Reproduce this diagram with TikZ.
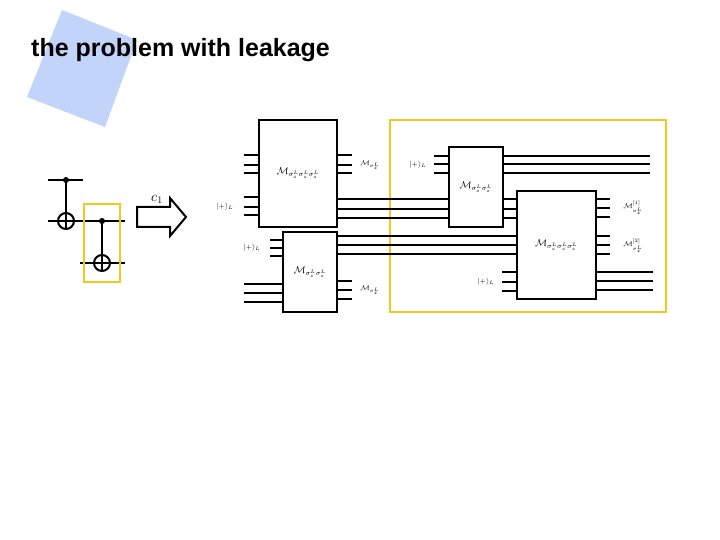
\documentclass[tikz,border=0pt]{standalone}
\usepackage{fontspec}
\setsansfont{Liberation Sans}
\definecolor{ylw}{RGB}{240,200,30}
\definecolor{lblue}{RGB}{195,212,250}
\begin{document}
\begin{tikzpicture}[x=1pt,y=-1pt,
  box/.style={draw,line width=2pt,fill=white,inner sep=0pt,font=\normalsize},
  w/.style={line width=2pt},
  lbl/.style={font=\scriptsize,inner sep=0pt},
  yb/.style={draw=ylw,line width=2.5pt}]
\useasboundingbox (0,0) rectangle (720,540);
\fill[lblue] (62,10) -- (137,40) -- (105,127) -- (27,97) -- cycle;
\node[anchor=base west,font=\sffamily\bfseries\fontsize{25}{28}\selectfont,inner sep=0pt] (title) at (31,57) {the problem with leakage};
% small circuit
\draw[w] (48,180) -- (83,180);
\draw[w] (48,221) -- (125,221);
\draw[w] (80,263) -- (125,263);
\fill (66,180) circle (3);
\draw[w] (66,180) -- (66,229);
\draw[w] (66,221) circle (8);
\fill (102,221) circle (3);
\draw[w] (102,221) -- (102,271);
\draw[w] (102,263) circle (8);
\draw[yb] (84,204) rectangle (120,282);
\draw[w] (137,207) -- (170,207) -- (170,198) -- (186,217) -- (170,236) -- (170,227) -- (137,227) -- cycle;
\node[font=\Large] (c1) at (157,199) {$c_1$};
% yellow big
\draw[yb] (390,120) rectangle (666,312);
% wires
\foreach \y in {155,165,173,197,207,215} \draw[w] (244,\y) -- (259,\y);
\foreach \y in {155,165,173} \draw[w] (337,\y) -- (352,\y);
\foreach \y in {199,209,218} \draw[w] (337,\y) -- (517,\y);
\foreach \y in {240,248,256} \draw[w] (270,\y) -- (283,\y);
\foreach \y in {284,293,302} \draw[w] (244,\y) -- (283,\y);
\foreach \y in {236,245,254} \draw[w] (337,\y) -- (517,\y);
\foreach \y in {281,290,299} \draw[w] (337,\y) -- (352,\y);
\foreach \y in {156,164,173} \draw[w] (434,\y) -- (650,\y);
\foreach \y in {272,282,291} \draw[w] (502,\y) -- (517,\y);
\foreach \y in {199,208,217,236,245,254} \draw[w] (596,\y) -- (610,\y);
\foreach \y in {272,281,290} \draw[w] (596,\y) -- (653,\y);
% boxes
\node[box,minimum width=78pt,minimum height=107pt] (A) at (298,173.5) {$\mathcal{M}_{\sigma_z^L\sigma_z^L\sigma_z^L}$};
\node[box,minimum width=54pt,minimum height=80pt] (B) at (310,272) {$\mathcal{M}_{\sigma_z^L\sigma_z^L}$};
\node[box,minimum width=54pt,minimum height=80pt] (C) at (476,187) {$\mathcal{M}_{\sigma_z^L\sigma_z^L}$};
\node[box,minimum width=79pt,minimum height=108pt] (D) at (556.5,245) {$\mathcal{M}_{\sigma_z^L\sigma_z^L\sigma_z^L}$};
% labels
\node[lbl] (lA1) at (370,165) {$\mathcal{M}_{\sigma_x^L}$};
\node[lbl] (lB1) at (370,290) {$\mathcal{M}_{\sigma_x^L}$};
\node[lbl] (pA) at (225,207) {$|{+}\rangle_L$};
\node[lbl] (pB) at (252,248) {$|{+}\rangle_L$};
\node[lbl] (pC) at (418,165) {$|{+}\rangle_L$};
\node[lbl] (pD) at (486,282) {$|{+}\rangle_L$};
\node[lbl] (m1) at (633,208) {$\mathcal{M}^{[1]}_{\sigma_x^L}$};
\node[lbl] (m2) at (633,246) {$\mathcal{M}^{[2]}_{\sigma_x^L}$};
\end{tikzpicture}
\end{document}
